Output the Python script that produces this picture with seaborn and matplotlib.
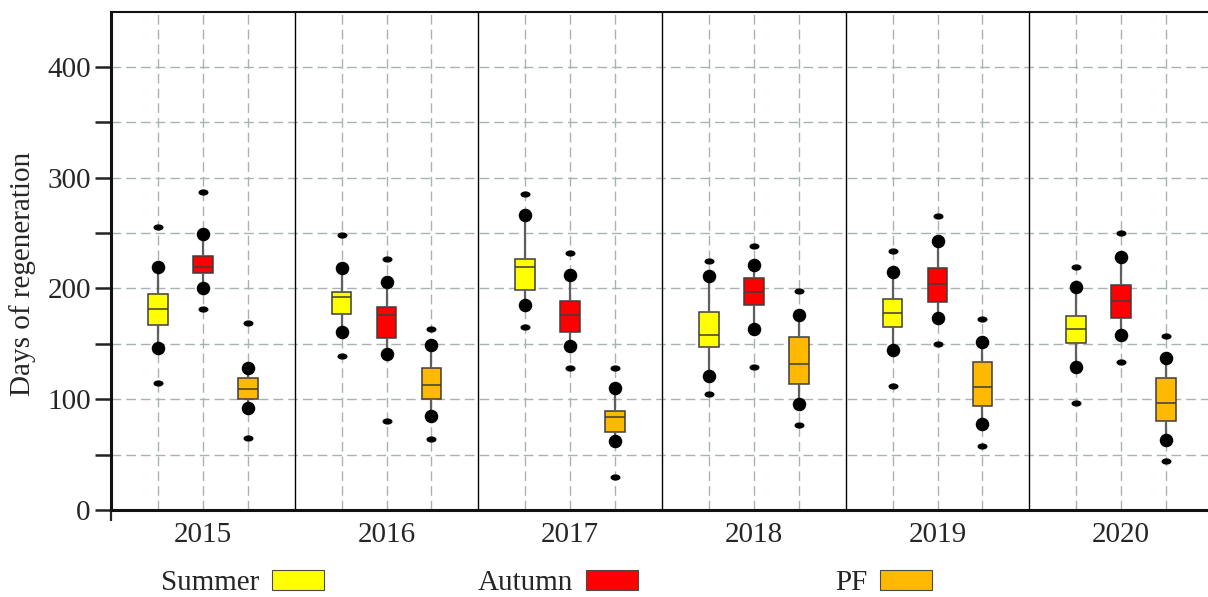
import numpy as np
import pandas as pd
import matplotlib
matplotlib.use("Agg")
import matplotlib.pyplot as plt
from matplotlib.path import Path
from matplotlib.patches import Patch
from matplotlib.ticker import MultipleLocator, FixedLocator
import seaborn as sns

# ---------------- data ----------------
years = ["2015", "2016", "2017", "2018", "2019", "2020"]
seasons = ["Summer", "Autumn", "PF"]
colors = ["#FFFF00", "#FF0000", "#FFB900"]

summer_p5 = [115, 139, 165, 105, 112, 97]
summer_p10 = [146, 161, 185, 121, 144, 129]
summer_q1 = [167, 177, 199, 147, 165, 151]
summer_med = [181, 192, 219, 158, 178, 163]
summer_q3 = [195, 197, 227, 179, 190, 175]
summer_p90 = [219, 218, 266, 211, 215, 201]
summer_p95 = [255, 248, 285, 225, 234, 219]

autumn_p5 = [181, 80, 128, 129, 150, 134]
autumn_p10 = [200, 141, 148, 163, 173, 158]
autumn_q1 = [214, 155, 161, 185, 188, 173]
autumn_med = [219, 176, 176, 197, 204, 189]
autumn_q3 = [229, 183, 189, 209, 218, 203]
autumn_p90 = [249, 206, 212, 221, 243, 228]
autumn_p95 = [287, 227, 232, 238, 265, 250]

pf_p5 = [65, 64, 30, 77, 58, 44]
pf_p10 = [92, 85, 62, 96, 78, 63]
pf_q1 = [100, 100, 70, 114, 94, 80]
pf_med = [109, 113, 84, 132, 111, 97]
pf_q3 = [119, 128, 89, 156, 134, 119]
pf_p90 = [128, 149, 110, 176, 152, 137]
pf_p95 = [169, 163, 128, 198, 172, 157]

stats = {
    "Summer": (summer_p5, summer_p10, summer_q1, summer_med, summer_q3, summer_p90, summer_p95),
    "Autumn": (autumn_p5, autumn_p10, autumn_q1, autumn_med, autumn_q3, autumn_p90, autumn_p95),
    "PF": (pf_p5, pf_p10, pf_q1, pf_med, pf_q3, pf_p90, pf_p95),
}

# ---------------- build tables ----------------
box_span = 0.735  # total dodge width per year
offsets = (np.arange(len(seasons)) - (len(seasons) - 1) / 2) * box_span / len(seasons)

box_rows, big_rows, small_rows = [], [], []
for si, s in enumerate(seasons):
    p5, p10, q1, med, q3, p90, p95 = stats[s]
    for yi, y in enumerate(years):
        for v in (p10[yi], q1[yi], med[yi], q3[yi], p90[yi]):
            box_rows.append({"year": y, "season": s, "days": v})
        xpos = yi + offsets[si]
        big_rows += [{"x": xpos, "days": p10[yi]}, {"x": xpos, "days": p90[yi]}]
        small_rows += [{"x": xpos, "days": p5[yi]}, {"x": xpos, "days": p95[yi]}]

box_df = pd.DataFrame(box_rows)
big_df = pd.DataFrame(big_rows)
small_df = pd.DataFrame(small_rows)

# ---------------- style ----------------
sns.set_theme(style="white")
plt.rcParams["font.family"] = ["Liberation Serif", "DejaVu Serif"]
plt.rcParams["axes.unicode_minus"] = False

fig = plt.figure(figsize=(12.08, 5.97), dpi=100)
ax = fig.add_axes([111 / 1208, 87 / 597, 1102 / 1208, 498 / 597])

sns.boxplot(
    data=box_df, x="year", y="days", hue="season",
    order=years, hue_order=seasons, palette=colors, saturation=1,
    width=box_span, gap=0.56, dodge=True, whis=(0, 100),
    linecolor="#3d3d3d", linewidth=1.1,
    whiskerprops={"color": "#5f5f5f", "linewidth": 1.6},
    capprops={"visible": False},
    legend=False, ax=ax, zorder=3,
)

# whisker-end dots and outer percentile dots
t = np.linspace(0, 2 * np.pi, 48)
ellipse = Path(np.column_stack([np.cos(t), 0.62 * np.sin(t)]))
sns.scatterplot(data=big_df, x="x", y="days", color="black", s=95,
                linewidth=0, legend=False, ax=ax, zorder=6)
sns.scatterplot(data=small_df, x="x", y="days", color="black", s=52,
                marker=ellipse, linewidth=0, legend=False, ax=ax, zorder=6)

# group separators
for b in np.arange(len(years) - 1) + 0.5:
    ax.axvline(b, color="black", lw=1.0, zorder=2)

# axes limits / ticks
ax.set_xlim(-0.5, len(years) - 0.5)
ax.set_ylim(0, 449.5)

box_pos = [yi + o for yi in range(len(years)) for o in offsets]
box_lab = [years[yi] if si == 1 else "" for yi in range(len(years)) for si in range(len(seasons))]
ax.set_xticks(box_pos)
ax.set_xticklabels(box_lab)
ax.xaxis.set_minor_locator(FixedLocator([-0.5]))
ax.tick_params(axis="x", which="major", length=0, pad=9, labelsize=21)
ax.tick_params(axis="x", which="minor", length=8, width=1.6, direction="out", bottom=True)

ax.yaxis.set_major_locator(MultipleLocator(100))
ax.yaxis.set_minor_locator(MultipleLocator(50))
ax.tick_params(axis="y", which="both", length=11.5, width=1.8, direction="out",
               left=True, pad=3, labelsize=21, color="#222222")

ax.set_axisbelow(True)
grid_kw = dict(color="#aab3b3", linestyle=(0, (7, 3.6)), linewidth=1.0)
ax.grid(True, axis="x", which="major", **grid_kw)
ax.grid(True, axis="y", which="both", **grid_kw)

ax.set_xlabel("")
ax.set_ylabel("Days of regeneration", fontsize=21)
ax.yaxis.set_label_coords(-0.068, 0.475)

for side in ["left", "bottom"]:
    ax.spines[side].set_linewidth(2.2)
    ax.spines[side].set_color("#111111")
ax.spines["top"].set_linewidth(1.5)
ax.spines["top"].set_color("#111111")
ax.spines["right"].set_linewidth(1.5)
ax.spines["right"].set_color("#111111")

# legend entries below the plot
legend_x = [161 / 1208, 478 / 1208, 835 / 1208]
for s, c, lx in zip(seasons, colors, legend_x):
    fig.legend(handles=[Patch(facecolor=c, edgecolor="#4a4a4a", linewidth=0.8)],
               labels=[s], loc="center left", bbox_to_anchor=(lx, 0.024),
               markerfirst=False, frameon=False, fontsize=21,
               handlelength=1.8, handleheight=0.68, handletextpad=0.42,
               borderpad=0, borderaxespad=0)

fig.savefig("out.png", dpi=100)
